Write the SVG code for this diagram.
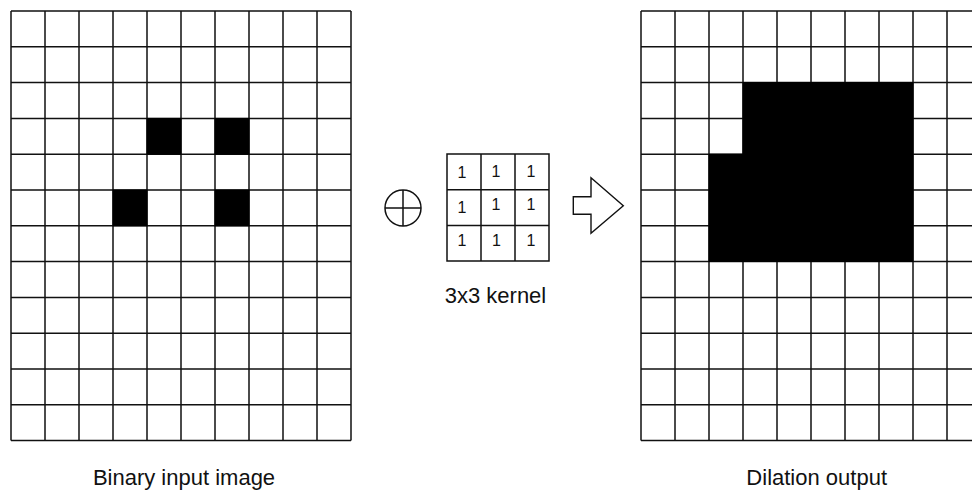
<svg xmlns="http://www.w3.org/2000/svg" xmlns:xlink="http://www.w3.org/1999/xlink" width="972" height="493" viewBox="0 0 972 493">
  <style>
    .grid { fill: none; stroke: #111; stroke-width: 1.5; }
    .on { fill: #000; }
    .label { font-family: "Liberation Sans", Arial, Helvetica, sans-serif; font-size: 22px; fill: #111; text-anchor: middle; }
    .one { font-family: "Liberation Sans", Arial, Helvetica, sans-serif; font-size: 16px; fill: #111; text-anchor: middle; }
    .line { fill: none; stroke: #111; stroke-width: 1.5; }
    .arrow { fill: #fff; stroke: #111; stroke-width: 1.4; stroke-linejoin: miter; }
  </style>
  <defs>
    <!-- 10 x 12 pixel grid, cells 34 x 35.8 -->
    <path id="grid10x12" class="grid" d="M0 0V429.6M34 0V429.6M68 0V429.6M102 0V429.6M136 0V429.6M170 0V429.6M204 0V429.6M238 0V429.6M272 0V429.6M306 0V429.6M340 0V429.6M0 0H340M0 35.8H340M0 71.6H340M0 107.4H340M0 143.2H340M0 179H340M0 214.8H340M0 250.6H340M0 286.4H340M0 322.2H340M0 358H340M0 393.8H340M0 429.6H340"/>
  </defs>
  <rect width="972" height="493" fill="#fff"/>

  <!-- binary input image: grid first, set pixels painted over it -->
  <g id="input-image" transform="translate(11,11)">
    <use xlink:href="#grid10x12" href="#grid10x12"/>
    <rect class="on" x="135.5" y="106.9" width="35" height="36.8"/>
    <rect class="on" x="203.5" y="106.9" width="35" height="36.8"/>
    <rect class="on" x="101.5" y="178.5" width="35" height="36.8"/>
    <rect class="on" x="203.5" y="178.5" width="35" height="36.8"/>
  </g>
  <text id="input-label" class="label" x="184" y="485">Binary input image</text>

  <!-- dilation operator -->
  <g id="operator">
    <circle class="line" cx="403" cy="208" r="18"/>
    <path class="line" d="M385 208H421M403 190V226"/>
  </g>

  <!-- structuring element -->
  <g id="kernel">
    <path class="grid" d="M447 154H549V261H447ZM481 154V261M515 154V261M447 189.7H549M447 225.4H549"/>
    <text class="one" x="462" y="178">1</text>
    <text class="one" x="496" y="176.5">1</text>
    <text class="one" x="531" y="176.5">1</text>
    <text class="one" x="462" y="212.5">1</text>
    <text class="one" x="496" y="209.5">1</text>
    <text class="one" x="531" y="209.5">1</text>
    <text class="one" x="462" y="246">1</text>
    <text class="one" x="496.5" y="246">1</text>
    <text class="one" x="531" y="246">1</text>
  </g>
  <text id="kernel-label" class="label" x="495.5" y="303">3x3 kernel</text>

  <g id="connectors">
    <path class="arrow" d="M573.3 196.7H591V177.7L623.3 205.7L591 233.3V214.3H573.3Z"/>
  </g>

  <!-- dilated output image -->
  <g id="output-image" transform="translate(641,11)">
    <use xlink:href="#grid10x12" href="#grid10x12"/>
    <path class="on" d="M101.5 71.1H272.5V251.1H67.5V142.7H101.5Z"/>
  </g>
  <text id="output-label" class="label" x="816.7" y="485">Dilation output</text>
</svg>
